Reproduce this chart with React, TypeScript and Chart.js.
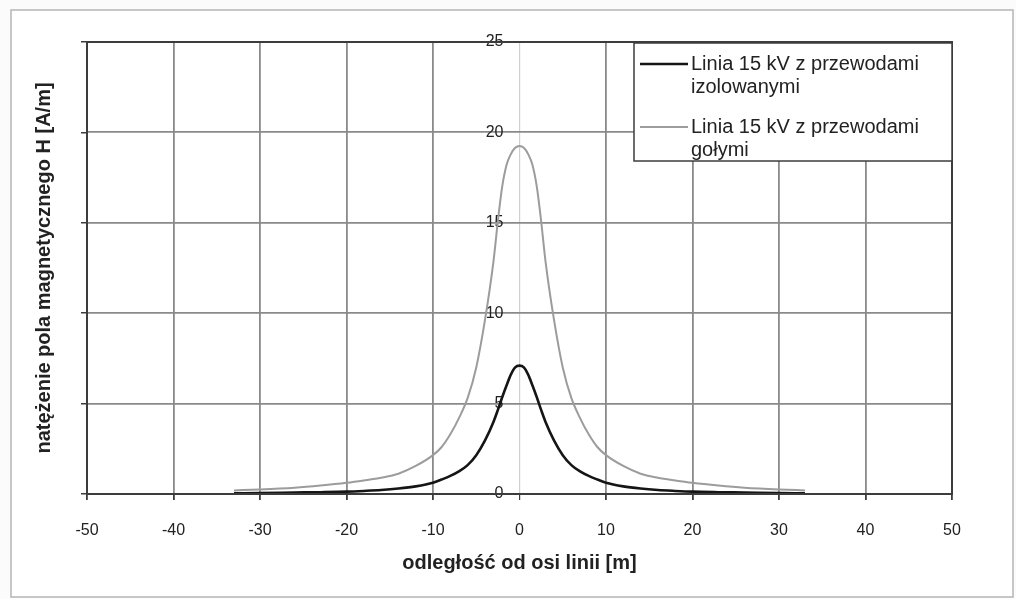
import React, { useEffect, useRef } from 'react';
import { Chart, registerables } from 'chart.js';

Chart.register(...registerables);

// distance from the line axis [m]
const distances = [
  -33, -30, -26, -23, -20, -18, -16, -14, -12, -10, -9, -8, -7, -6, -5, -4, -3, -2.5, -2, -1.5, -1, -0.5,
  0,
  0.5, 1, 1.5, 2, 2.5, 3, 4, 5, 6, 7, 8, 9, 10, 12, 14, 16, 18, 20, 23, 26, 30, 33,
];

// H [A/m] – line with insulated conductors
const insulatedConductors = [
  0.04, 0.05, 0.08, 0.1, 0.13, 0.17, 0.22, 0.3, 0.42, 0.62, 0.8, 1.0, 1.25, 1.6, 2.15, 2.95, 4.0, 4.65, 5.35, 6.0, 6.6, 7.0,
  7.1,
  7.0, 6.6, 6.0, 5.35, 4.65, 4.0, 2.95, 2.15, 1.6, 1.25, 1.0, 0.8, 0.62, 0.42, 0.3, 0.22, 0.17, 0.13, 0.1, 0.08, 0.05, 0.04,
];

// H [A/m] – line with bare conductors
const bareConductors = [
  0.2, 0.25, 0.35, 0.47, 0.62, 0.75, 0.9, 1.12, 1.55, 2.15, 2.6, 3.3, 4.2, 5.3, 7.0, 9.6, 12.9, 15.1, 17.0, 18.2, 18.8, 19.15,
  19.25,
  19.15, 18.8, 18.2, 17.0, 15.1, 12.9, 9.6, 7.0, 5.3, 4.2, 3.3, 2.6, 2.15, 1.55, 1.12, 0.9, 0.75, 0.62, 0.47, 0.35, 0.25, 0.2,
];

const insulatedLabel = ['Linia 15 kV z przewodami', 'izolowanymi'];
const bareLabel = ['Linia 15 kV z przewodami', 'gołymi'];
const xTitle = 'odległość od osi linii [m]';
const yTitle = 'natężenie pola magnetycznego H [A/m]';
const xRange = [-50, 50];
const xStep = 10;
const yRange = [0, 25];
const yStep = 5;

const FONT = "'Liberation Sans', Arial, sans-serif";
const GRID = '#8a8a8a';
const FRAME = '#3c3c3c';

export default function App() {
  const ref = useRef<HTMLCanvasElement>(null);

  useEffect(() => {
    const canvas = ref.current;
    if (!canvas) return;

    const legendLines = [insulatedLabel, bareLabel];

    const decor = {
      id: 'decor',
      beforeDraw(chart: any) {
        const ctx = chart.ctx;
        ctx.save();
        ctx.fillStyle = '#fbfbfb';
        ctx.fillRect(0, 0, chart.width, chart.height);
        ctx.fillStyle = '#ffffff';
        ctx.fillRect(11, 10, 1002, 587);
        ctx.strokeStyle = '#b5b5b5';
        ctx.lineWidth = 1.5;
        ctx.strokeRect(11, 10, 1002, 587);
        ctx.restore();
      },
      afterDatasetsDraw(chart: any) {
        const { left, top, right, bottom } = chart.chartArea;
        const ctx = chart.ctx;
        ctx.save();
        ctx.strokeStyle = FRAME;
        ctx.lineWidth = 2;
        ctx.strokeRect(left, top, right - left, bottom - top);
        ctx.restore();
      },
      afterDraw(chart: any) {
        const { top, right } = chart.chartArea;
        const ctx = chart.ctx;
        const w = 318;
        const h = 118;
        const x0 = right - w;
        const y0 = top + 1;
        ctx.save();
        ctx.fillStyle = '#ffffff';
        ctx.fillRect(x0, y0, w, h);
        ctx.strokeStyle = FRAME;
        ctx.lineWidth = 1.5;
        ctx.strokeRect(x0, y0, w, h);
        ctx.font = `20px ${FONT}`;
        ctx.textBaseline = 'middle';
        ctx.textAlign = 'left';
        chart.data.datasets.forEach((ds: any, i: number) => {
          const sy = y0 + 21 + i * 63;
          ctx.strokeStyle = ds.borderColor;
          ctx.lineWidth = ds.borderWidth;
          ctx.beginPath();
          ctx.moveTo(x0 + 6, sy);
          ctx.lineTo(x0 + 54, sy);
          ctx.stroke();
          ctx.fillStyle = '#222';
          legendLines[i].forEach((line, j) => {
            ctx.fillText(line, x0 + 57, sy + j * 23);
          });
        });
        ctx.restore();
      },
    };

    const chart = new Chart(canvas, {
      type: 'line',
      data: {
        datasets: [
          {
            label: insulatedLabel.join(' '),
            data: distances.map((x, i) => ({ x, y: insulatedConductors[i] })),
            borderColor: '#151515',
            borderWidth: 2.6,
            pointRadius: 0,
            cubicInterpolationMode: 'monotone',
            fill: false,
          },
          {
            label: bareLabel.join(' '),
            data: distances.map((x, i) => ({ x, y: bareConductors[i] })),
            borderColor: '#9c9c9c',
            borderWidth: 2,
            pointRadius: 0,
            cubicInterpolationMode: 'monotone',
            fill: false,
          },
        ],
      },
      options: {
        animation: false,
        responsive: false,
        devicePixelRatio: 1,
        layout: { padding: { top: 42, right: 64, left: 0, bottom: 0 } },
        plugins: {
          legend: { display: false },
          tooltip: { enabled: false },
          title: { display: false },
        },
        scales: {
          x: {
            type: 'linear',
            min: xRange[0],
            max: xRange[1],
            afterFit: (s: any) => {
              s.height = 105;
            },
            ticks: {
              stepSize: xStep,
              font: { family: FONT, size: 16 },
              color: '#222',
              padding: 21,
            },
            grid: {
              color: (c: any) => (c.tick && c.tick.value === 0 ? '#cfcfcf' : GRID),
              lineWidth: (c: any) => (c.tick && c.tick.value === 0 ? 1.2 : 1.8),
              tickColor: FRAME,
              tickLength: 6,
            },
            border: { color: FRAME, width: 2 },
            title: {
              display: true,
              text: xTitle,
              font: { family: FONT, size: 20, weight: 'bold' },
              color: '#222',
              padding: { top: 0, bottom: 24 },
            },
          },
          y: {
            type: 'linear',
            position: { x: -1.85 } as any,
            min: yRange[0],
            max: yRange[1],
            ticks: {
              stepSize: yStep,
              font: { family: FONT, size: 16 },
              color: '#222',
              padding: 0,
            },
            grid: {
              color: GRID,
              lineWidth: 1.8,
              drawTicks: false,
            },
            border: { display: false },
          },
          yL: {
            type: 'linear',
            position: 'left',
            min: yRange[0],
            max: yRange[1],
            afterFit: (s: any) => {
              s.width = 87;
            },
            ticks: { stepSize: yStep, display: false },
            grid: {
              drawOnChartArea: false,
              drawTicks: true,
              tickLength: 6,
              color: FRAME,
              lineWidth: 1.5,
            },
            border: { color: FRAME, width: 2 },
            title: {
              display: true,
              text: yTitle,
              font: { family: FONT, size: 20, weight: 'bold' },
              color: '#222',
              padding: { top: 32, bottom: 0 },
            },
          },
        },
      },
      plugins: [decor],
    } as any);

    return () => chart.destroy();
  }, []);

  return (
    <div style={{ position: 'fixed', left: 0, top: 0, width: 1016, height: 599 }}>
      <canvas ref={ref} width={1016} height={599} style={{ display: 'block', width: 1016, height: 599 }} />
    </div>
  );
}
